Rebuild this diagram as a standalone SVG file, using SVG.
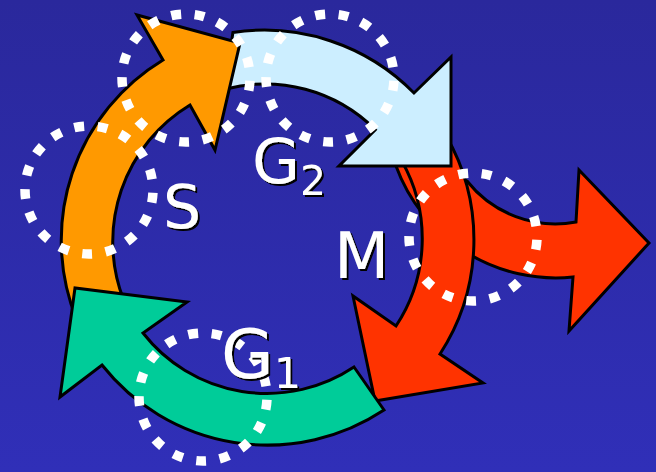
<svg xmlns="http://www.w3.org/2000/svg" width="656" height="472" viewBox="0 0 656 472">
<defs>
<linearGradient id="bg" x1="0" y1="0" x2="0" y2="1">
<stop offset="0" stop-color="#2a289c"/>
<stop offset="1" stop-color="#302fb8"/>
</linearGradient>
<filter id="sh" x="-20%" y="-20%" width="150%" height="150%">
<feDropShadow dx="2" dy="2" stdDeviation="0.6" flood-color="#000" flood-opacity="1"/>
</filter>
</defs>
<style>
.arr{stroke:#000;stroke-width:3;stroke-linejoin:miter}
.dots{fill:none;stroke:#fff;stroke-width:9.5;stroke-dasharray:0.42 0.58;stroke-dashoffset:-0.12}
.lbl{font-family:"DejaVu Sans","Liberation Sans",sans-serif;fill:#fff;filter:url(#sh)}
</style>
<rect width="656" height="472" fill="url(#bg)"/>
<g id="arrows">
<g id="exit"><path class="arr" fill="#ff3300" d="M400,160 L440,172 L467,181 A113,113 0 0 0 576,222 L579,170 L649,243 L569,331 L573,277 A170,170 0 0 1 396,166 Z"/></g>
<g id="mitosis"><path class="arr" fill="#ff3300" d="M446,135.5 A209,209 0 0 1 440,354 L483,383 L375,401 L353,296 L396,326 A158,158 0 0 0 401.8,161 Z"/></g>
<g id="g2"><path class="arr" fill="#cceeff" d="M232.9,32.5 A210,210 0 0 1 414,93 L451,57 L451,166 L339,166 L375.3,129.7 A156,156 0 0 0 224.6,89.3 Z"/></g>
<g id="s"><path class="arr" fill="#ff9900" d="M76.4,319 A211,211 0 0 1 163,60 L137,15 L240,43 L215,150 L190,105 A160,160 0 0 0 123.6,299.9 Z"/></g>
<g id="g1"><path class="arr" fill="#00cc99" d="M354,367 L384,410 A211,211 0 0 1 102,365 L60,397 L75,288 L187,302 L143,333 A157,157 0 0 0 354,367 Z"/></g>
</g>
<g id="rings">
<circle class="dots" cx="186" cy="78" r="64" pathLength="17"/>
<circle class="dots" cx="330" cy="78" r="64" pathLength="17"/>
<circle class="dots" cx="89" cy="190" r="64" pathLength="17"/>
<circle class="dots" cx="203" cy="397" r="64" pathLength="17"/>
<circle class="dots" cx="473" cy="237" r="64" pathLength="17"/>
</g>
<g id="labels">
<text class="lbl" x="163" y="228" font-size="60">S</text>
<text class="lbl" x="252" y="183" font-size="62">G<tspan font-size="41" y="195">2</tspan></text>
<text class="lbl" x="334" y="278" font-size="64">M</text>
<text class="lbl" x="221" y="378" font-size="68">G<tspan font-size="43" y="388">1</tspan></text>
</g>
</svg>
